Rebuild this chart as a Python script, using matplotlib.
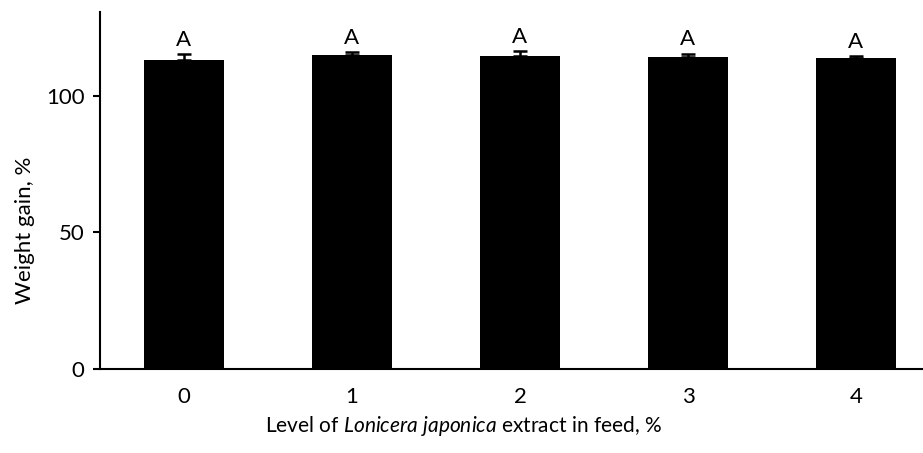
import numpy as np
import matplotlib.pyplot as plt

plt.rcParams['font.family'] = ['Lato', 'DejaVu Sans']
plt.rcParams['mathtext.fontset'] = 'custom'
plt.rcParams['mathtext.rm'] = 'Lato'
plt.rcParams['mathtext.it'] = 'Lato:italic'

# data
levels = ['0', '1', '2', '3', '4']
gain = [113.2, 114.9, 114.6, 114.4, 113.8]
err = [2.2, 1.0, 1.9, 1.1, 0.8]
letters = ['A', 'A', 'A', 'A', 'A']

fig = plt.figure(figsize=(9.23, 4.53), dpi=100)
ax = fig.add_axes([100/923, (453-369)/453, 840/923, 357/453])

x = np.arange(len(levels))
ax.bar(x, gain, width=0.48, color='black')
ax.errorbar(x, gain, yerr=[np.zeros(len(err)), err], fmt='none',
            ecolor='black', elinewidth=1.8, capsize=5, capthick=1.8)
for xi, g, e, s in zip(x, gain, err, letters):
    ax.text(xi, g + e + 1.5, s, ha='center', va='bottom', fontsize=16)

ax.set_xlim(-0.5, 4.5)
ax.set_ylim(0, 130.7)
ax.set_yticks([0, 50, 100])
ax.set_xticks(x)
ax.set_xticklabels(levels)
ax.tick_params(axis='y', length=5, width=1.5, labelsize=16, pad=6)
ax.tick_params(axis='x', length=0, labelsize=16, pad=13)

ax.spines['top'].set_visible(False)
ax.spines['right'].set_visible(False)
ax.spines['left'].set_linewidth(1.5)
ax.spines['bottom'].set_linewidth(1.5)

ax.set_ylabel('Weight gain, %', fontsize=16)
ax.set_xlabel('Level of $\\mathit{Lonicera\\ japonica}$ extract in feed, %',
              fontsize=15)
ax.yaxis.set_label_coords(-65/840, (369-230)/357)
ax.xaxis.set_label_coords((463-100)/840, -(414-369)/357)

plt.savefig('out.png', dpi=100)
